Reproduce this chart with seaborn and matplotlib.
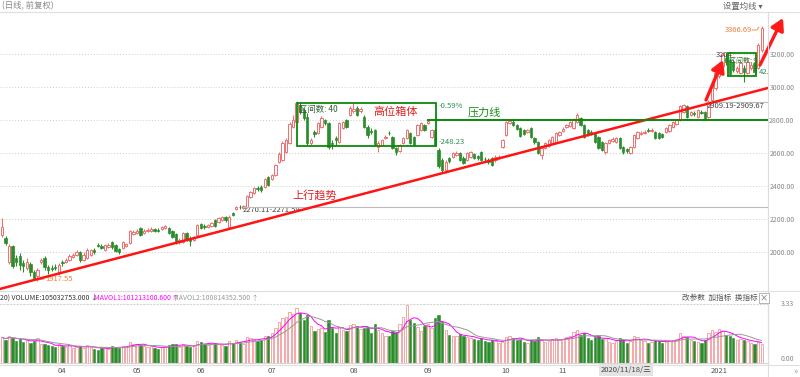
import numpy as np
import pandas as pd
import matplotlib
matplotlib.use('Agg')
import matplotlib.pyplot as plt
import seaborn as sns
from matplotlib.patches import Rectangle
from matplotlib.lines import Line2D

sns.set_theme(style='white')
plt.rcParams['font.family'] = ['Noto Sans CJK SC', 'DejaVu Sans']
plt.rcParams['axes.unicode_minus'] = False

# ---- daily candles, 2020-03-09 .. 2021-01, one row per trading day ----
opens = [2103, 2085, 1939, 2036, 1964, 1976, 1933, 1903, 1927, 1879, 1854, 1939, 1964, 1909, 1903, 1909, 1873,
         1939, 1939, 1951, 1970, 1982, 2000, 1951, 1964, 1982, 2012, 2042, 2036, 2012, 2030, 2061, 2042, 2018, 2024, 2036, 2054, 2109,
         2115, 2145, 2115, 2127, 2127, 2139, 2133, 2139, 2145, 2145, 2127, 2109, 2061, 2061, 2115, 2085, 2073, 2103,
         2170, 2157, 2151, 2157, 2194, 2182, 2194, 2212, 2151, 2236, 2260, 2273, 2266, 2273, 2333, 2357, 2388, 2394, 2394, 2454,
         2442, 2467, 2545, 2557, 2606, 2660, 2757, 2788, 2891, 2860, 2818, 2660, 2727, 2721, 2757, 2800, 2782, 2660, 2691, 2666, 2751, 2800, 2830,
         2854, 2873, 2854, 2818, 2757, 2733, 2739, 2636, 2648, 2691, 2721, 2697, 2630, 2612, 2660, 2691, 2721, 2697, 2709, 2739, 2770,
         2782, 2697, 2739, 2618, 2557, 2497, 2570, 2576, 2588, 2600, 2570, 2557, 2576, 2594, 2582, 2606, 2564, 2557, 2570, 2557, 2570, 2636,
         2709, 2782, 2788, 2770, 2751, 2739, 2727, 2751, 2691, 2666, 2588, 2630, 2642, 2660, 2666, 2709,
         2733, 2757, 2763, 2751, 2788, 2812, 2770, 2739, 2727, 2721, 2697, 2666, 2606, 2660, 2673, 2666, 2691, 2636, 2624, 2600, 2636,
         2691, 2715, 2721, 2739, 2733, 2727, 2721, 2715, 2727, 2733, 2757, 2776, 2800, 2848, 2885, 2830, 2842, 2818, 2848, 2848, 2818, 2921, 2994,
         3066, 3127, 3176, 3163, 3151, 3097, 3085, 3115, 3085, 3115, 3145, 3115, 3224]
closes = [2151, 2054, 2036, 1915, 1939, 1921, 1915, 1939, 1879, 1836, 1891, 1951, 1909, 1891, 1897, 1903, 1921,
          1933, 1951, 1976, 1982, 2000, 1951, 1982, 2012, 2012, 2000, 2039, 2024, 2042, 2042, 2030, 2006, 2000, 2061, 2048, 2127, 2121,
          2127, 2103, 2127, 2133, 2139, 2127, 2130, 2151, 2157, 2115, 2091, 2054, 2073, 2115, 2073, 2067, 2091, 2164,
          2145, 2151, 2164, 2176, 2157, 2206, 2212, 2194, 2212, 2224, 2273, 2270, 2279, 2339, 2363, 2388, 2382, 2376, 2442, 2406,
          2467, 2527, 2594, 2660, 2679, 2776, 2800, 2903, 2848, 2812, 2660, 2679, 2715, 2782, 2812, 2782, 2636, 2657, 2679, 2782, 2788, 2757, 2873,
          2866, 2830, 2866, 2757, 2709, 2730, 2648, 2660, 2679, 2697, 2718, 2630, 2606, 2648, 2691, 2739, 2660, 2648, 2770, 2782, 2739,
          2794, 2739, 2648, 2521, 2497, 2545, 2551, 2600, 2600, 2557, 2539, 2600, 2606, 2570, 2570, 2557, 2561, 2545, 2527, 2576, 2576, 2679,
          2788, 2794, 2770, 2745, 2703, 2715, 2739, 2697, 2666, 2600, 2630, 2660, 2679, 2697, 2721, 2727,
          2745, 2770, 2788, 2806, 2830, 2770, 2697, 2715, 2724, 2666, 2630, 2618, 2660, 2679, 2685, 2691, 2630, 2606, 2612, 2636, 2709,
          2727, 2721, 2727, 2736, 2739, 2691, 2691, 2697, 2751, 2770, 2788, 2800, 2885, 2891, 2818, 2848, 2836, 2860, 2845, 2812, 2903, 3012, 3085,
          3139, 3194, 3151, 3079, 3103, 3115, 3145, 3091, 3151, 3133, 3091, 3254, 3357]
highs = [2206, 2097, 2048, 2042, 1982, 1994, 1951, 1964, 1939, 1891, 1903, 1964, 1976, 1921, 1921, 1927, 1933,
         1951, 1964, 1988, 1994, 2012, 2006, 2000, 2024, 2018, 2024, 2054, 2048, 2048, 2054, 2067, 2048, 2024, 2067, 2054, 2133, 2133,
         2139, 2151, 2139, 2145, 2151, 2145, 2145, 2157, 2163, 2151, 2133, 2115, 2085, 2121, 2121, 2097, 2097, 2170,
         2176, 2170, 2170, 2182, 2200, 2212, 2218, 2218, 2224, 2242, 2279, 2285, 2285, 2345, 2370, 2394, 2400, 2406, 2448, 2460,
         2473, 2533, 2606, 2673, 2691, 2788, 2830, 2915, 2909, 2873, 2842, 2691, 2739, 2788, 2824, 2806, 2788, 2679, 2703, 2788, 2794, 2806, 2885,
         2903, 2885, 2879, 2830, 2770, 2751, 2745, 2673, 2685, 2709, 2733, 2703, 2636, 2654, 2697, 2745, 2727, 2703, 2776, 2788, 2776,
         2806, 2745, 2751, 2630, 2570, 2557, 2576, 2606, 2612, 2606, 2582, 2606, 2612, 2600, 2588, 2612, 2576, 2570, 2576, 2588, 2588, 2685,
         2794, 2806, 2800, 2776, 2757, 2745, 2745, 2757, 2697, 2673, 2636, 2666, 2685, 2703, 2727, 2733,
         2757, 2776, 2794, 2812, 2842, 2818, 2776, 2745, 2739, 2727, 2703, 2673, 2666, 2685, 2697, 2697, 2697, 2642, 2630, 2642, 2715,
         2733, 2733, 2739, 2751, 2751, 2733, 2727, 2721, 2757, 2776, 2794, 2806, 2891, 2897, 2891, 2854, 2854, 2866, 2860, 2854, 2921, 3030, 3097,
         3151, 3212, 3206, 3176, 3163, 3127, 3157, 3133, 3163, 3151, 3157, 3266, 3366.69]
lows = [2091, 2042, 1927, 1903, 1915, 1891, 1879, 1891, 1854, 1833, 1824, 1927, 1891, 1867, 1885, 1891, 1861,
        1915, 1933, 1945, 1964, 1976, 1939, 1945, 1958, 1976, 1988, 2030, 2018, 2006, 2024, 2018, 2000, 1988, 2018, 2030, 2048, 2103,
        2109, 2097, 2109, 2121, 2121, 2121, 2121, 2133, 2139, 2109, 2085, 2048, 2048, 2054, 2067, 2036, 2067, 2097,
        2139, 2139, 2145, 2151, 2151, 2176, 2188, 2182, 2145, 2218, 2254, 2260, 2260, 2266, 2327, 2351, 2370, 2363, 2388, 2400,
        2436, 2460, 2539, 2551, 2600, 2654, 2751, 2782, 2836, 2800, 2648, 2648, 2697, 2715, 2751, 2770, 2624, 2624, 2648, 2660, 2745, 2751, 2824,
        2842, 2824, 2842, 2751, 2691, 2715, 2642, 2606, 2642, 2685, 2709, 2624, 2588, 2606, 2654, 2685, 2654, 2642, 2703, 2733, 2733,
        2776, 2691, 2642, 2509, 2485, 2479, 2539, 2570, 2582, 2551, 2533, 2551, 2570, 2564, 2557, 2551, 2551, 2533, 2521, 2545, 2564, 2630,
        2703, 2776, 2763, 2739, 2697, 2709, 2721, 2691, 2654, 2594, 2564, 2624, 2636, 2654, 2660, 2703,
        2727, 2751, 2757, 2745, 2782, 2763, 2691, 2703, 2709, 2660, 2624, 2612, 2594, 2654, 2666, 2660, 2624, 2594, 2600, 2594, 2630,
        2685, 2709, 2715, 2727, 2727, 2685, 2685, 2691, 2721, 2727, 2751, 2770, 2794, 2842, 2812, 2824, 2824, 2812, 2836, 2806, 2812, 2909, 2982,
        3054, 3121, 3133, 3066, 3091, 3085, 3079, 3030, 3079, 3103, 3085, 3109, 3212]
# volume in units of 1e8
volumes = [1.45, 1.30, 1.55, 1.40, 1.25, 1.35, 1.20, 1.30, 1.15, 1.25, 1.40, 1.10, 1.05, 1.00, 0.95, 0.90, 1.10,
           0.95, 0.90, 1.00, 0.85, 0.90, 0.95, 0.85, 1.00, 0.90, 0.80, 0.75, 0.85, 0.90, 0.80, 0.95, 0.90, 0.85, 0.95, 0.90, 1.20, 1.05,
           1.10, 1.00, 0.95, 0.90, 0.95, 0.85, 0.80, 0.90, 0.95, 1.00, 1.05, 1.10, 0.90, 1.05, 0.95, 0.90, 0.95, 1.25,
           1.20, 1.05, 1.00, 1.10, 1.15, 1.05, 1.00, 0.95, 1.25, 1.15, 1.30, 1.20, 1.10, 1.45, 1.40, 1.35, 1.25, 1.30, 1.55, 1.50,
           1.70, 1.95, 2.30, 2.55, 2.60, 2.90, 2.75, 3.10, 2.80, 2.45, 2.70, 2.10, 1.80, 1.90, 2.00, 1.75, 2.40, 2.00, 1.70, 2.05, 1.85, 1.80, 2.15,
           2.20, 2.10, 1.90, 2.00, 2.05, 1.70, 2.20, 1.85, 1.70, 1.55, 1.50, 1.80, 1.75, 2.20, 2.60, 3.30, 2.40, 2.25, 2.05, 1.80, 2.10,
           2.20, 2.00, 2.55, 2.70, 2.30, 1.85, 1.60, 1.55, 1.50, 1.65, 1.55, 1.45, 1.40, 1.35, 1.30, 1.40, 1.25, 1.20, 1.30, 1.25, 1.15, 1.20,
           1.45, 1.55, 1.40, 1.30, 1.35, 1.20, 1.15, 1.30, 1.25, 1.45, 1.30, 1.20, 1.25, 1.35, 1.40, 1.30,
           1.35, 1.45, 1.55, 1.75, 1.85, 1.60, 1.70, 1.40, 1.30, 1.45, 1.50, 1.35, 1.40, 1.20, 1.15, 1.25, 1.40, 1.30, 1.15, 1.25, 1.50,
           1.45, 1.30, 1.25, 1.15, 1.20, 1.30, 1.25, 1.15, 1.20, 1.25, 1.30, 1.35, 1.70, 1.55, 1.45, 1.30, 1.25, 1.20, 1.15, 1.30, 1.70, 1.85, 1.75,
           1.90, 1.80, 1.60, 1.55, 1.40, 1.30, 1.35, 1.30, 1.25, 1.15, 1.10, 1.20, 1.05]

month_idx = [17, 38, 56, 76, 99, 120, 142, 158, 202]
month_labels = ['04', '05', '06', '07', '08', '09', '10', '11', '2021']
price_ticks = [2000, 2200, 2400, 2600, 2800, 3000, 3200]

# drawn study objects (bar index, price)
trend_idx, trend_price = [-0.6, 215.8], [1776, 2994]
box1_idx, box1_price = [83.1, 122.3], [2642, 2903]
box2_idx, box2_price = [204.5, 212.4], [3066, 3206]
resist_idx, resist_price = [119.7, 216.0], 2800
rng1_idx, rng1_price = 67.9, 2271
rng2_idx, rng2_price = 198.3, 2909.5

df = pd.DataFrame({'o': opens, 'h': highs, 'l': lows, 'c': closes, 'vol': volumes})
df['i'] = np.arange(len(df))
df['ma5'] = df['vol'].rolling(5, min_periods=1).mean()
df['ma10'] = df['vol'].rolling(10, min_periods=1).mean()
up = df[df.c >= df.o]
dn = df[df.c < df.o]

RED = '#ee6f6f'
VRED = '#f29a9a'
GREEN = '#2b8c2b'
LINE_G = '#0a8a0a'

W, H = 800, 377
fig = plt.figure(figsize=(8, 3.77), dpi=100)
def fx(px): return px / W
def fy(py): return 1 - py / H
def xi(px): return (px - 2) / 3.55
def yp(py): return 3527 - 6.06 * py

ax = fig.add_axes([0, fy(291), fx(768), (291 - 12) / H])
axv = fig.add_axes([0, fy(363), fx(768), (363 - 304) / H])

# candles
bw = 0.66
ax.vlines(dn.i, dn.l, dn.h, color=GREEN, lw=0.8, zorder=2)
ax.bar(dn.i, dn.o - dn.c, bottom=dn.c, width=bw, color=GREEN, edgecolor=GREEN, lw=0.5, zorder=3)
ax.vlines(up.i, up.c, up.h, color=RED, lw=0.8, zorder=2)
ax.vlines(up.i, up.l, up.o, color=RED, lw=0.8, zorder=2)
ax.bar(up.i, (up.c - up.o).clip(lower=2), bottom=up.o, width=bw, facecolor='white',
       edgecolor=RED, lw=0.7, zorder=3)

ax.set_xlim(xi(0), xi(768))
ax.set_ylim(yp(291), yp(12))
ax.set_xticks([])
ax.yaxis.tick_right()
ax.set_yticks(price_ticks, labels=['%.2f' % t for t in price_ticks])
ax.tick_params(axis='y', length=0, pad=19, labelsize=5, labelcolor='#888888')
for lbl in ax.get_yticklabels():
    lbl.set_horizontalalignment('right')
ax.yaxis.grid(True, ls=(0, (1, 2)), color='#cccccc', lw=0.7)
ax.xaxis.grid(False)
ax.spines['left'].set_visible(False)
for s in ['top', 'bottom', 'right']:
    ax.spines[s].set_color('#dddddd')
    ax.spines[s].set_linewidth(0.8)

# trend line / boxes / resistance
sns.lineplot(x=trend_idx, y=trend_price, ax=ax, color='#ff1414', lw=1.8, zorder=5)
for bi, bp in [(box1_idx, box1_price), (box2_idx, box2_price)]:
    ax.add_patch(Rectangle((bi[0], bp[0]), bi[1] - bi[0], bp[1] - bp[0], fill=False,
                           edgecolor=LINE_G, lw=1.3, zorder=6))
ax.hlines(resist_price, resist_idx[0], resist_idx[1], color=LINE_G, lw=1.4, zorder=6)
ax.hlines(rng1_price, rng1_idx, 216, color='#bbbbbb', lw=0.8, zorder=4)
ax.hlines(rng2_price, rng2_idx, 216, color='#bbbbbb', lw=0.8, zorder=4)

# arrows
arrow = dict(arrowstyle='-|>,head_length=0.7,head_width=0.4', color='#ff1a1a', lw=2.4,
             shrinkA=0, shrinkB=0, mutation_scale=10)
ax.annotate('', xy=(xi(723), yp(60)), xytext=(xi(706), yp(100)), arrowprops=arrow, zorder=8)
ax.annotate('', xy=(xi(783), yp(18)), xytext=(xi(760), yp(65)), arrowprops=arrow,
            annotation_clip=False, zorder=8)

# texts on chart
ax.text(xi(299), yp(109), '区间数: 40', fontsize=6, color='#2d5f2d', va='center', zorder=7)
ax.text(xi(373), yp(112), '高位箱体', fontsize=8, color='#e02020', va='center')
ax.text(xi(439), yp(106), '-0.59%', fontsize=5.5, color='#2e8b57', va='center')
ax.text(xi(439), yp(142), '-248.23', fontsize=5.5, color='#2e8b57', va='center')
ax.text(xi(468), yp(113), '压力线', fontsize=8, color='#1a8c1a', va='center')
ax.text(xi(292), yp(196), '上行趋势', fontsize=8, color='#e02020', va='center')
ax.text(xi(243), yp(210), '2270.11-2271.59', fontsize=5.5, color='#444444', va='center')
ax.text(xi(707), yp(106), '2909.19-2909.67', fontsize=5.5, color='#444444', va='center')
ax.text(xi(725), yp(30), '3366.69', fontsize=5.5, color='#f07f3c', va='center')
ax.plot([xi(752), xi(757), xi(759)], [yp(30), yp(30), yp(27)], color='#f07f3c', lw=0.6)
ax.text(xi(45), yp(279), '1917.55', fontsize=5.5, color='#f07f3c', va='center')
ax.plot([xi(37), xi(44)], [yp(280), yp(279)], color='#f07f3c', lw=0.6)
ax.text(xi(716), yp(55), '3204', fontsize=5.5, color='#444444', va='center')
ax.text(xi(729), yp(61), '区间数: 9', fontsize=5, color='#2d6f2d', va='center', zorder=7)
ax.text(xi(759), yp(72), '42.', fontsize=5.5, color='#2e8b57', va='center', clip_on=True)

# volume
axv.bar(dn.i, dn.vol, width=bw, color=GREEN, edgecolor=GREEN, lw=0.4)
axv.bar(up.i, up.vol, width=bw, facecolor='white', edgecolor=VRED, lw=0.6)
sns.lineplot(data=df, x='i', y='ma5', ax=axv, color='#ff00ff', lw=0.7)
sns.lineplot(data=df, x='i', y='ma10', ax=axv, color='#999999', lw=0.7)
axv.set_xlim(xi(0), xi(768))
axv.set_ylim(0, 3.33)
axv.set_xlabel('')
axv.set_ylabel('')
axv.yaxis.tick_right()
axv.set_yticks([0, 3.33], labels=['0.00', '3.33'])
axv.tick_params(axis='y', length=0, pad=19, labelsize=5, labelcolor='#888888')
for lbl in axv.get_yticklabels():
    lbl.set_horizontalalignment('right')
    lbl.set_verticalalignment('bottom' if lbl.get_text() == '0.00' else 'center')
axv.set_xticks(month_idx, labels=month_labels)
axv.tick_params(axis='x', length=0, pad=3, labelsize=5.5, labelcolor='#555555')
axv.spines['left'].set_visible(False)
axv.spines['top'].set_linestyle((0, (1, 2)))
for s in ['top', 'bottom', 'right']:
    axv.spines[s].set_color('#d5d5d5')
    axv.spines[s].set_linewidth(0.8)

# header / panel texts
fig.text(fx(2), fy(6), '(日线, 前复权)', fontsize=6, color='#888888', va='center')
fig.text(fx(763), fy(6), '设置均线 ▾', fontsize=6, color='#666666', va='center', ha='right')
fig.text(fx(0), fy(298), '20) VOLUME:105032753.000 ↓', fontsize=5, color='#333333', va='center')
fig.text(fx(94), fy(298), 'MAVOL1:101213100.600 ↑', fontsize=5, color='#ff00ff', va='center')
fig.text(fx(173), fy(298), 'MAVOL2:100814352.500 ↑', fontsize=5, color='#999999', va='center')
fig.text(fx(682), fy(298), '改参数  加指标  换指标', fontsize=5.5, color='#555555', va='center')
fig.text(fx(764), fy(298), '×', fontsize=6, color='#666666', va='center', ha='center',
         bbox=dict(boxstyle='square,pad=0.1', fc='white', ec='#999999', lw=0.5))
fig.text(fx(626), fy(370), '2020/11/18/三', fontsize=5.5, color='#444444', va='center', ha='center',
         bbox=dict(boxstyle='square,pad=0.25', fc='#e4e4e4', ec='none'))
fig.text(fx(795), fy(371), '»', fontsize=6, color='#999999', va='center', ha='center')

# frame lines outside the axes
for yy in [12, 291]:
    fig.add_artist(Line2D([0, 1], [fy(yy), fy(yy)], color='#e0e0e0', lw=0.8))
fig.add_artist(Line2D([fx(768), fx(768)], [0, fy(12)], color='#dddddd', lw=0.8))
fig.add_artist(Line2D([0, 1], [fy(365), fy(365)], color='#e0e0e0', lw=0.8))

fig.savefig('out.png', dpi=100, facecolor='white')
